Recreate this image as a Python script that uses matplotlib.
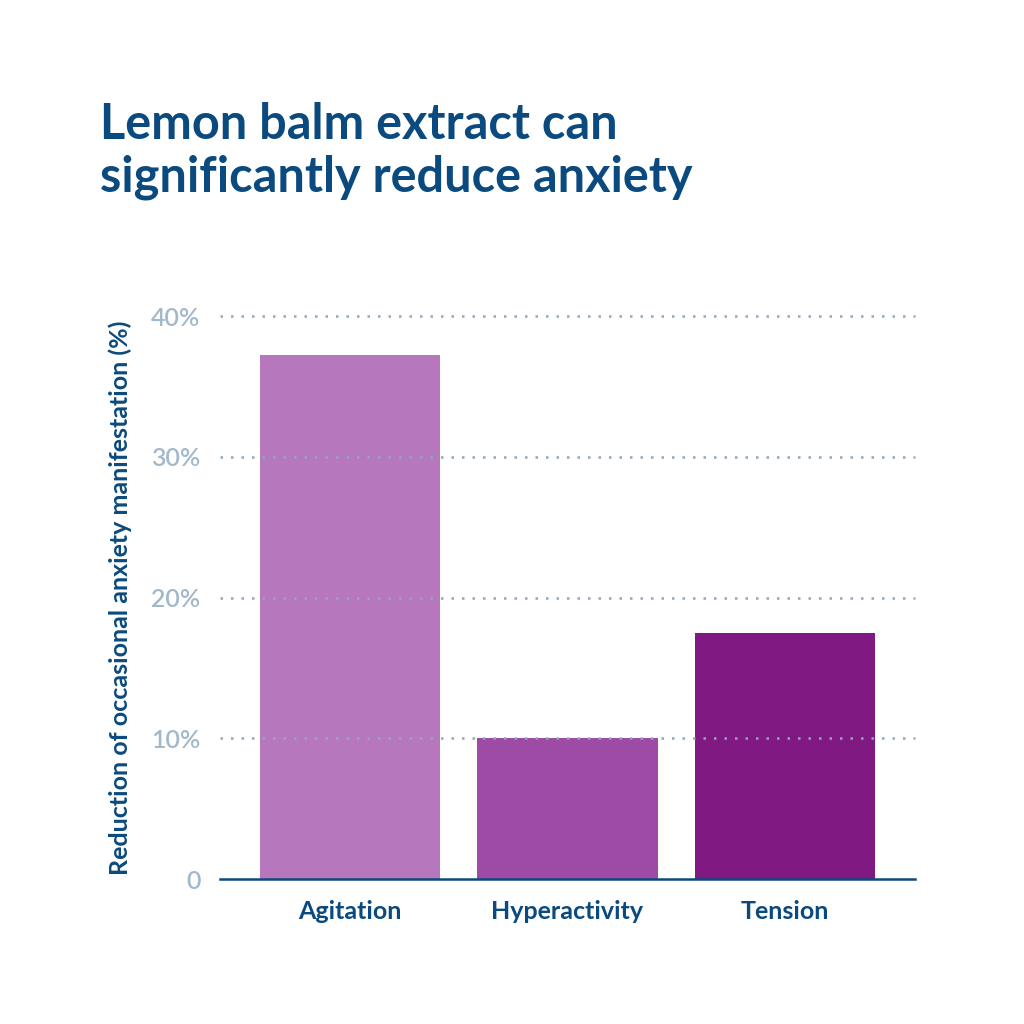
import matplotlib
matplotlib.use('Agg')
import matplotlib.pyplot as plt

plt.rcParams['font.family'] = ['Lato', 'DejaVu Sans']

# data
categories = ['Agitation', 'Hyperactivity', 'Tension']
reduction = [37.2, 10.0, 17.5]
bar_colors = ['#B777BD', '#9E4BA6', '#801982']
y_ticks = [0, 10, 20, 30, 40]
y_tick_labels = ['0', '10%', '20%', '30%', '40%']

title_color = '#0B4A7E'
tick_color = '#A3B9CB'
grid_color = '#8FA8BE'

fig = plt.figure(figsize=(10.24, 10.24), dpi=100)
ax = fig.add_axes([0.2148, 0.1416, 0.6787, 0.5498])

x = range(len(categories))
ax.bar(x, reduction, width=0.83, color=bar_colors, zorder=2)

# dotted gridlines sit on top of the bars
for t in y_ticks[1:]:
    ax.axhline(t, color=grid_color, linestyle=(0, (1, 3.2)), linewidth=1.8,
               zorder=3, clip_on=False)
ax.axhline(0, color=title_color, linewidth=1.8, zorder=4, clip_on=False)

ax.set_xlim(-0.6, 2.6)
ax.set_ylim(0, 40)
ax.set_yticks(y_ticks)
ax.set_yticklabels(y_tick_labels, fontsize=18, color=tick_color, fontweight='semibold')
ax.set_xticks(list(x))
ax.set_xticklabels(categories, fontsize=18, color=title_color, fontweight='bold')
ax.tick_params(axis='both', length=0)
ax.tick_params(axis='y', pad=14)
ax.tick_params(axis='x', pad=15)
for s in ax.spines.values():
    s.set_visible(False)

ax.set_ylabel('Reduction of occasional anxiety manifestation (%)',
              fontsize=18, color=title_color, fontweight='bold', labelpad=14)

fig.text(0.098, 0.8125, 'Lemon balm extract can\nsignificantly reduce anxiety',
         fontsize=35, color=title_color, fontweight='bold',
         ha='left', va='baseline', linespacing=1.22)

fig.savefig('out.png', dpi=100)
